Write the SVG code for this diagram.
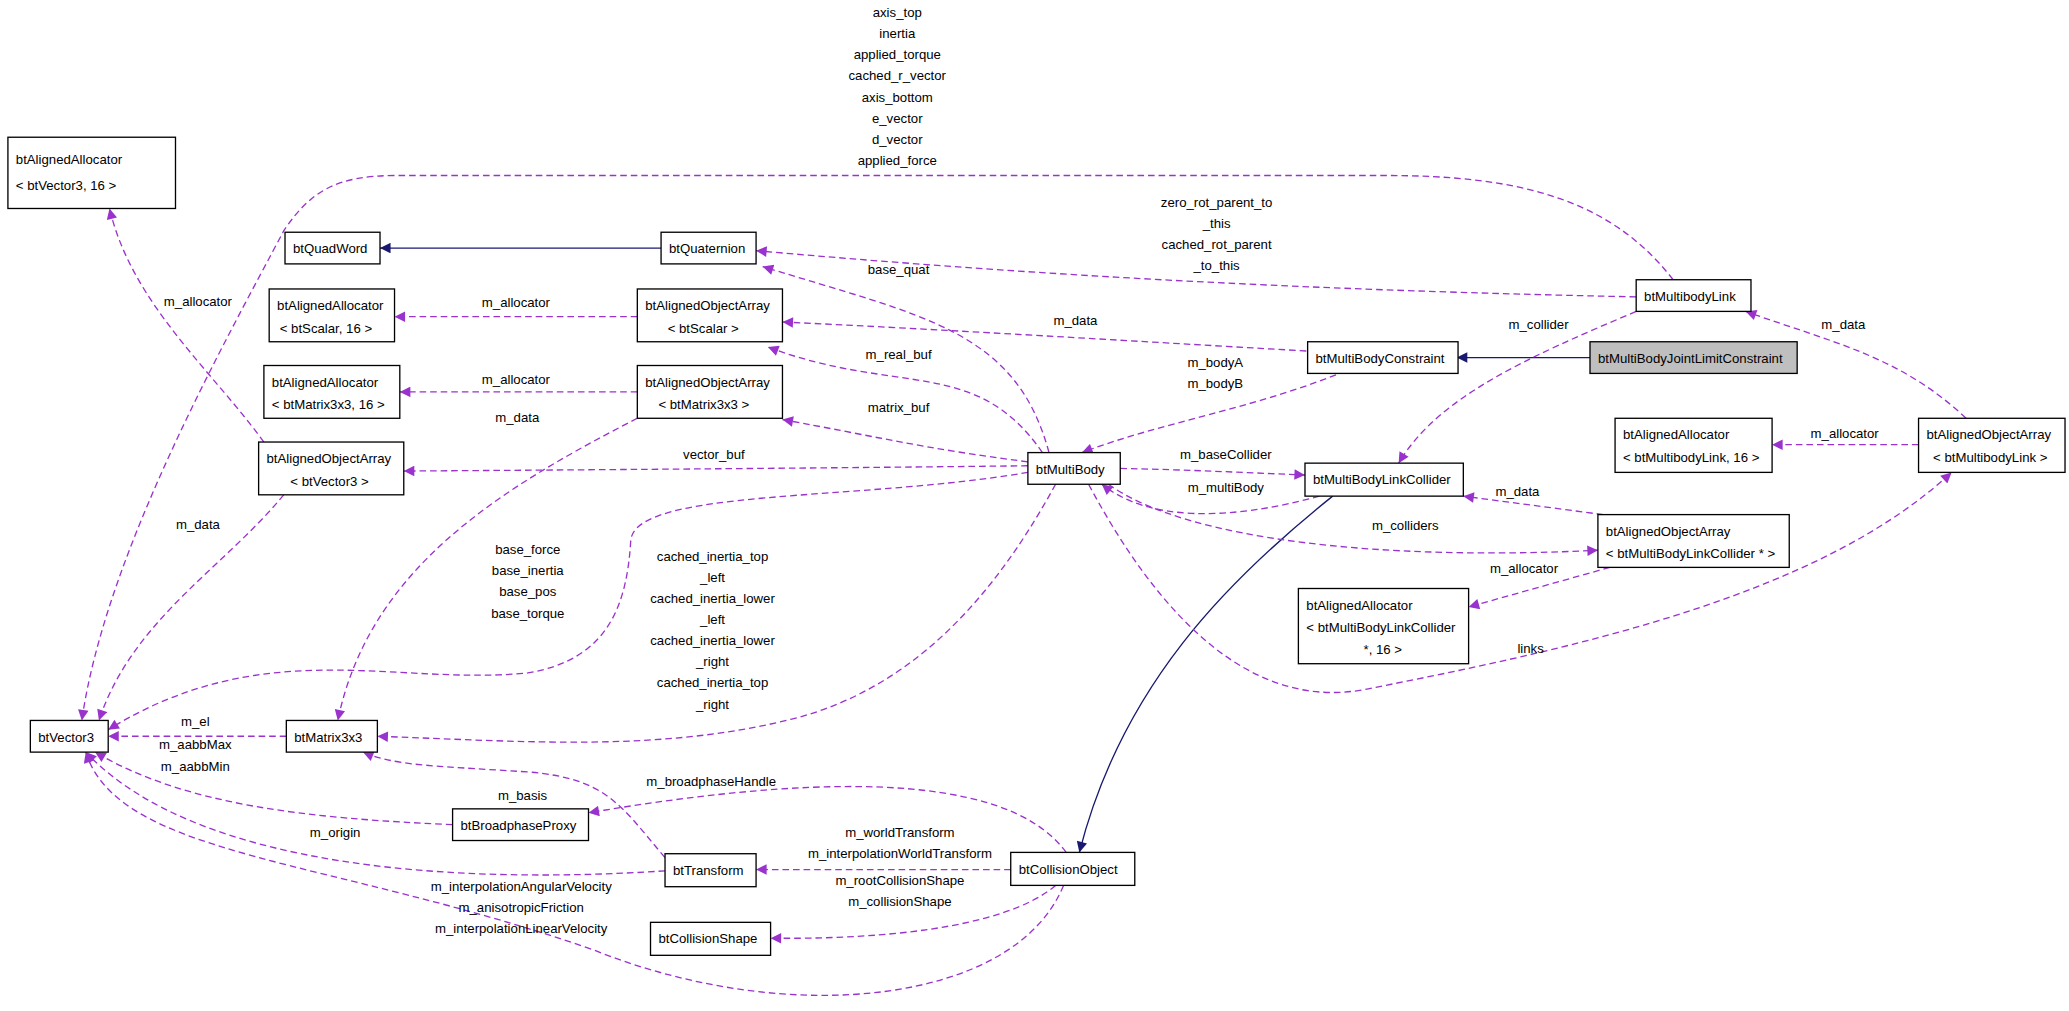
<svg xmlns="http://www.w3.org/2000/svg" width="2069" height="1011" viewBox="0 0 2069 1011">
<style>
text{font-family:"Liberation Sans",Arial,sans-serif;font-size:10px;fill:#000;text-anchor:middle}
.n rect{fill:#fff;stroke:#000;stroke-width:1}
.n text{text-anchor:start}
.e{fill:none;stroke:#9a32cd;stroke-dasharray:5,3;stroke-width:1;marker-end:url(#ap)}
.i{fill:none;stroke:#191970;stroke-width:1;marker-end:url(#an)}
</style>
<defs>
<marker id="ap" viewBox="0 0 10 10" refX="10" refY="5" markerWidth="10" markerHeight="8" markerUnits="userSpaceOnUse" orient="auto"><path d="M0,0L10,5L0,10z" fill="#9a32cd"/></marker>
<marker id="an" viewBox="0 0 10 10" refX="10" refY="5" markerWidth="10" markerHeight="8" markerUnits="userSpaceOnUse" orient="auto"><path d="M0,0L10,5L0,10z" fill="#191970"/></marker>
</defs>
<rect width="2069" height="1011" fill="#fff"/>
<g transform="scale(1.3195)">
<g id="connectors">
<path class="i" d="M501,188L288,188"/>
<path class="i" d="M1205,271L1104,271"/>
<path class="i" d="M1010,376C930,440 850,520 818,646"/>
<path class="e" d="M483,240L299,240"/><text x="391" y="233">m_allocator</text>
<path class="e" d="M483,297L303,297"/><text x="391" y="291">m_allocator</text>
<path class="e" d="M200,335C160,280 100,230 83,158"/><text x="150" y="232">m_allocator</text>
<path class="e" d="M215,375C170,430 100,470 75,546"/><text x="150" y="401">m_data</text>
<path class="e" d="M483,317C380,370 280,430 256,546"/><text x="392" y="320">m_data</text>
<path class="e" d="M1268,212C1220,150 1150,133 1050,133L300,133C255,133 235,145 215,175C170,260 80,420 62,546"/>
<text x="680" y="13">axis_top</text><text x="680" y="29">inertia</text><text x="680" y="45">applied_torque</text><text x="680" y="61">cached_r_vector</text><text x="680" y="77">axis_bottom</text><text x="680" y="93">e_vector</text><text x="680" y="109">d_vector</text><text x="680" y="125">applied_force</text>
<path class="e" d="M1240,225C1000,220 800,210 573,190"/>
<text x="922" y="157">zero_rot_parent_to</text><text x="922" y="173">_this</text><text x="922" y="189">cached_rot_parent</text><text x="922" y="205">_to_this</text>
<path class="e" d="M990,266C850,258 720,250 593,244"/><text x="815" y="246">m_data</text>
<path class="e" d="M1020,281C950,310 880,320 820,343"/><text x="921" y="278">m_bodyA</text><text x="921" y="294">m_bodyB</text>
<path class="e" d="M795,343C770,250 700,240 578,202"/><text x="681" y="208">base_quat</text>
<path class="e" d="M790,343C740,270 680,300 582,263"/><text x="681" y="272">m_real_buf</text>
<path class="e" d="M779,350C700,340 660,330 593,318"/><text x="681" y="312">matrix_buf</text>
<path class="e" d="M779,353C600,355 450,356 306,357"/><text x="541" y="348">vector_buf</text>
<path class="e" d="M779,358C650,380 480,370 478,410C475,460 460,500 400,510C300,520 200,480 82,553"/>
<text x="400" y="420">base_force</text><text x="400" y="436">base_inertia</text><text x="400" y="452">base_pos</text><text x="400" y="468">base_torque</text>
<path class="e" d="M800,367C760,440 700,520 600,545C500,570 400,562 286,558"/>
<text x="540" y="425">cached_inertia_top</text><text x="540" y="441">_left</text><text x="540" y="457">cached_inertia_lower</text><text x="540" y="473">_left</text><text x="540" y="489">cached_inertia_lower</text><text x="540" y="505">_right</text><text x="540" y="521">cached_inertia_top</text><text x="540" y="537">_right</text>
<path class="e" d="M849,355C900,356 940,358 989,360"/><text x="929" y="348">m_baseCollider</text>
<path class="e" d="M1000,376C930,395 870,395 835,367"/><text x="929" y="373">m_multiBody</text>
<path class="e" d="M840,367C900,410 1050,425 1211,417"/><text x="1065" y="402">m_colliders</text>
<path class="e" d="M1215,390L1109,376"/><text x="1150" y="376">m_data</text>
<path class="e" d="M1220,430L1113,460"/><text x="1155" y="434">m_allocator</text>
<path class="e" d="M825,367C880,470 950,540 1037,522C1200,490 1380,450 1479,358"/><text x="1160" y="495">links</text>
<path class="e" d="M1240,236C1160,270 1090,300 1060,351"/><text x="1166" y="249">m_collider</text>
<path class="e" d="M1490,317C1440,270 1390,260 1323,236"/><text x="1397" y="249">m_data</text>
<path class="e" d="M1454,337L1343,337"/><text x="1398" y="332">m_allocator</text>
<path class="e" d="M217,558L82,558"/><text x="148" y="550">m_el</text>
<path class="e" d="M343,625C230,620 140,610 72,570"/><text x="148" y="568">m_aabbMax</text><text x="148" y="584">m_aabbMin</text>
<path class="e" d="M504,660C350,670 150,660 65,570"/><text x="254" y="634">m_origin</text>
<path class="e" d="M504,650C470,610 460,590 400,585C320,580 300,580 275,570"/><text x="396" y="606">m_basis</text>
<path class="e" d="M808,646C760,580 600,590 446,616"/><text x="539" y="596">m_broadphaseHandle</text>
<path class="e" d="M766,659L573,659"/><text x="682" y="634">m_worldTransform</text><text x="682" y="650">m_interpolationWorldTransform</text>
<path class="e" d="M800,671C760,705 660,712 584,711"/><text x="682" y="671">m_rootCollisionShape</text><text x="682" y="687">m_collisionShape</text>
<path class="e" d="M806,671C770,760 600,780 450,720C250,650 90,650 65,570"/>
<text x="395" y="675">m_interpolationAngularVelocity</text><text x="395" y="691">m_anisotropicFriction</text><text x="395" y="707">m_interpolationLinearVelocity</text>
</g>
<g id="n1" class="n"><rect x="6" y="104" width="127" height="54"/><text x="12" y="124">btAlignedAllocator</text><text x="12" y="144">&lt; btVector3, 16 &gt;</text></g>
<g id="n2" class="n"><rect x="216" y="176" width="72" height="24"/><text x="222" y="192">btQuadWord</text></g>
<g id="n3" class="n"><rect x="501" y="176" width="72" height="24"/><text x="507" y="192">btQuaternion</text></g>
<g id="n4" class="n"><rect x="204" y="219" width="95" height="40"/><text x="210" y="235">btAlignedAllocator</text><text x="212" y="252">&lt; btScalar, 16 &gt;</text></g>
<g id="n5" class="n"><rect x="483" y="219" width="110" height="40"/><text x="489" y="235">btAlignedObjectArray</text><text x="506" y="252">&lt; btScalar &gt;</text></g>
<g id="n6" class="n"><rect x="200" y="277" width="103" height="40"/><text x="206" y="293">btAlignedAllocator</text><text x="206" y="310">&lt; btMatrix3x3, 16 &gt;</text></g>
<g id="n7" class="n"><rect x="483" y="277" width="110" height="40"/><text x="489" y="293">btAlignedObjectArray</text><text x="499" y="310">&lt; btMatrix3x3 &gt;</text></g>
<g id="n8" class="n"><rect x="196" y="335" width="110" height="40"/><text x="202" y="351">btAlignedObjectArray</text><text x="220" y="368">&lt; btVector3 &gt;</text></g>
<g id="n9" class="n"><rect x="779" y="343" width="70" height="24"/><text x="785" y="359">btMultiBody</text></g>
<g id="n10" class="n"><rect x="991" y="259" width="114" height="24"/><text x="997" y="275">btMultiBodyConstraint</text></g>
<g id="n11" class="n"><rect x="1205" y="259" width="157" height="24" style="fill:#bfbfbf"/><text x="1211" y="275">btMultiBodyJointLimitConstraint</text></g>
<g id="n12" class="n"><rect x="1240" y="212" width="87" height="24"/><text x="1246" y="228">btMultibodyLink</text></g>
<g id="n13" class="n"><rect x="989" y="351" width="120" height="25"/><text x="995" y="367">btMultiBodyLinkCollider</text></g>
<g id="n14" class="n"><rect x="1224" y="317" width="119" height="41"/><text x="1230" y="333">btAlignedAllocator</text><text x="1230" y="350">&lt; btMultibodyLink, 16 &gt;</text></g>
<g id="n15" class="n"><rect x="1454" y="317" width="111" height="41"/><text x="1460" y="333">btAlignedObjectArray</text><text x="1465" y="350">&lt; btMultibodyLink &gt;</text></g>
<g id="n16" class="n"><rect x="1211" y="390" width="145" height="40"/><text x="1217" y="406">btAlignedObjectArray</text><text x="1217" y="423">&lt; btMultiBodyLinkCollider * &gt;</text></g>
<g id="n17" class="n"><rect x="984" y="446" width="129" height="57"/><text x="990" y="462">btAlignedAllocator</text><text x="990" y="479">&lt; btMultiBodyLinkCollider</text><text x="1048" y="496" style="text-anchor:middle">*, 16 &gt;</text></g>
<g id="n18" class="n"><rect x="766" y="646" width="94" height="25"/><text x="772" y="662">btCollisionObject</text></g>
<g id="n19" class="n"><rect x="23" y="546" width="59" height="24"/><text x="29" y="562">btVector3</text></g>
<g id="n20" class="n"><rect x="217" y="546" width="69" height="24"/><text x="223" y="562">btMatrix3x3</text></g>
<g id="n21" class="n"><rect x="343" y="613" width="103" height="24"/><text x="349" y="629">btBroadphaseProxy</text></g>
<g id="n22" class="n"><rect x="504" y="647" width="69" height="25"/><text x="510" y="663">btTransform</text></g>
<g id="n23" class="n"><rect x="493" y="699" width="91" height="25"/><text x="499" y="715">btCollisionShape</text></g>
</g>
</svg>
